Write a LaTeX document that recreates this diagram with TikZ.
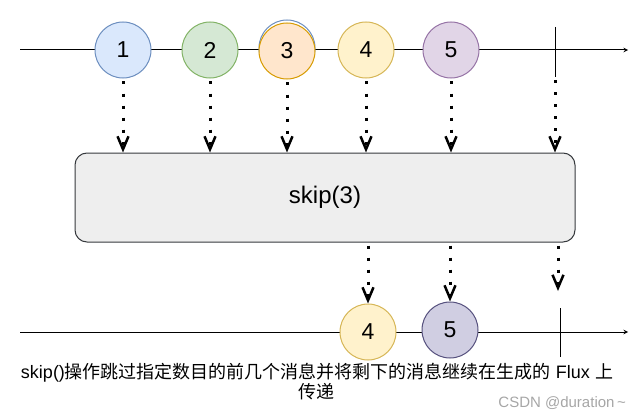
\documentclass[tikz,border=0pt]{standalone}
\usepackage{fontspec}
\setmainfont{Liberation Sans}
\newfontfamily\cjk{Noto Sans CJK SC}
\usetikzlibrary{arrows, arrows.meta}

\definecolor{blueFill}{HTML}{DAE8FC}   \definecolor{blueLine}{HTML}{6C8EBF}
\definecolor{greenFill}{HTML}{D5E8D4}  \definecolor{greenLine}{HTML}{82B366}
\definecolor{orangeFill}{HTML}{FFE6CC} \definecolor{orangeLine}{HTML}{D79B00}
\definecolor{yellowFill}{HTML}{FFF2CC} \definecolor{yellowLine}{HTML}{D6B656}
\definecolor{purpleFill}{HTML}{E1D5E7} \definecolor{purpleLine}{HTML}{9673A6}
\definecolor{slateFill}{HTML}{D0CEE2}  \definecolor{slateLine}{HTML}{56517E}
\definecolor{opFill}{HTML}{EEEEEE}     \definecolor{opLine}{HTML}{36393D}

\tikzstyle{marble} = [circle, minimum size=56pt, inner sep=0pt, line width=1pt, font=\fontsize{23}{26}\selectfont]
\tikzstyle{operator} = [rectangle, rounded corners=12pt, minimum width=500pt, minimum height=89pt, draw=opLine, fill=opFill, line width=1pt, font=\fontsize{24}{28}\selectfont]
\tikzstyle{timeline} = [line width=1pt, ->, >=stealth]
\tikzstyle{emit} = [line width=3pt, dash pattern=on 3pt off 9pt, shorten <=3pt, -{Straight Barb[length=13pt, width=11pt, line width=2.5pt]}]
\tikzstyle{caption} = [align=center, font=\fontsize{18}{20}\selectfont]

\begin{document}
\begin{tikzpicture}[x=1pt, y=-1pt]
\useasboundingbox (0,0) rectangle (640,420);

% source flux
\coordinate (topStart) at (20,50);
\coordinate (topEnd) at (628,50);
\draw [timeline] (topStart) -- (topEnd);
\node [marble, draw=blueLine] (m3back) at (287,48) {};
\node [marble, draw=blueLine, fill=blueFill] (m1) at (123,50) {1};
\node [marble, draw=greenLine, fill=greenFill] (m2) at (210,50) {2};
\node [marble, draw=orangeLine, fill=orangeFill] (m3) at (287,51) {3};
\node [marble, draw=yellowLine, fill=yellowFill] (m4) at (366,50) {4};
\node [marble, draw=purpleLine, fill=purpleFill] (m5) at (451,50) {5};
\coordinate (doneTop) at (555,27);
\coordinate (done) at (555,77);
\draw [line width=1pt] (doneTop) -- (done);

% operator
\node [operator] (op) at (325,197.5) {skip(3)};

\draw [emit] (m1.south) -- (m1 |- op.north);
\draw [emit] (m2.south) -- (m2 |- op.north);
\draw [emit] (m3.south) -- (m3 |- op.north);
\draw [emit] (m4.south) -- (m4 |- op.north);
\draw [emit] (m5.south) -- (m5 |- op.north);
\draw [emit] (done) -- (done |- op.north);

% result flux
\coordinate (botStart) at (20,332);
\coordinate (botEnd) at (628,332);
\draw [timeline] (botStart) -- (botEnd);
\node [marble, draw=yellowLine, fill=yellowFill] (r4) at (368,332) {4};
\node [marble, draw=slateLine, fill=slateFill] (r5) at (450,330) {5};
\coordinate (rDoneTop) at (560,308);
\coordinate (rDone) at (560,357);
\draw [line width=1pt] (rDoneTop) -- (rDone);
\coordinate (rDoneIn) at (558,291);

\draw [emit] (op.south -| r4) -- (r4.north);
\draw [emit] (op.south -| r5) -- (r5.north);
\draw [emit] (op.south -| rDoneIn) -- (rDoneIn);

% caption
\node [caption] (note) at (317,382) {skip()\cjk 操作跳过指定数目的前几个消息并将剩下的消息继续在生成的\rmfamily{} Flux \cjk 上\\\cjk 传递};
\node [anchor=east, text=gray!70, font=\fontsize{15}{18}\selectfont, inner sep=0pt] (mark) at (626,403) {CSDN @duration\,\textasciitilde};

\end{tikzpicture}
\end{document}
